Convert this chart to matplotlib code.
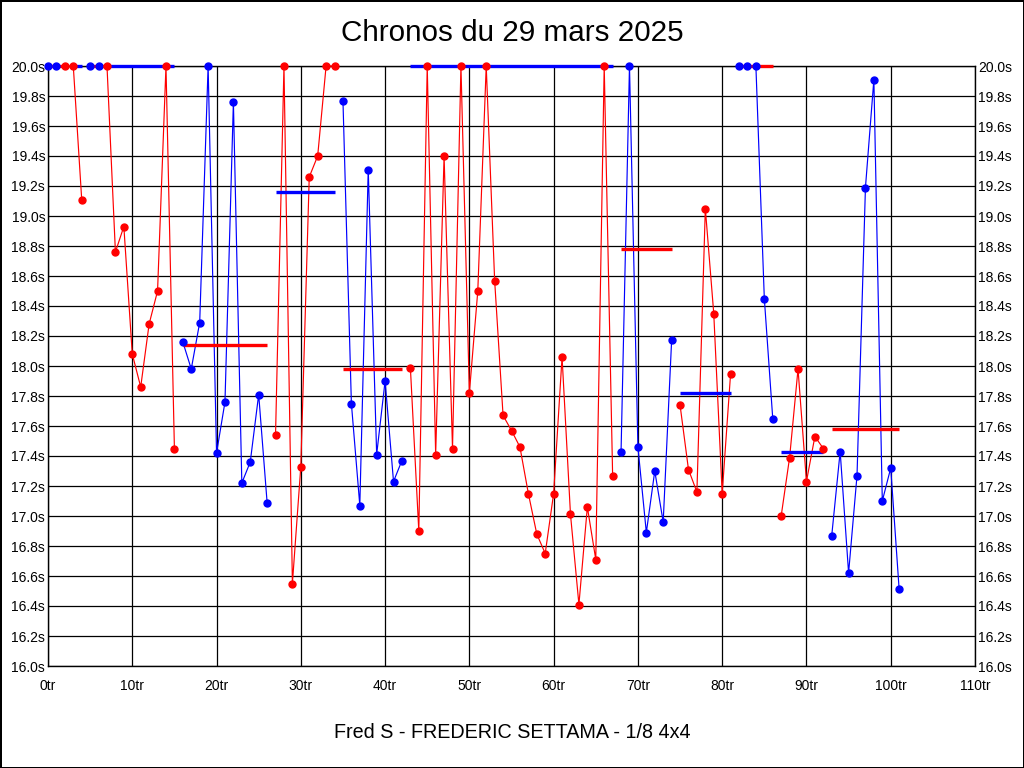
import matplotlib
matplotlib.use("Agg")
import matplotlib.pyplot as plt
from matplotlib.ticker import FuncFormatter, MultipleLocator

# ---- data ----
lap_times = [
    20.0, 20.0, 20.0, 20.0, 19.11, 20.0, 20.0, 20.0, 18.76, 18.93,
    18.08, 17.86, 18.28, 18.50, 20.0, 17.45, 18.16, 17.98, 18.29, 20.0,
    17.42, 17.76, 19.76, 17.22, 17.36, 17.81, 17.09, 17.54, 20.0, 16.55,
    17.33, 19.26, 19.40, 20.0, 20.0, 19.77, 17.75, 17.07, 19.31, 17.41,
    17.90, 17.23, 17.37, 17.99, 16.90, 20.0, 17.41, 19.40, 17.45, 20.0,
    17.82, 18.50, 20.0, 18.57, 17.67, 17.57, 17.46, 17.15, 16.88, 16.75,
    17.15, 18.06, 17.01, 16.41, 17.06, 16.71, 20.0, 17.27, 17.43, 20.0,
    17.46, 16.89, 17.30, 16.96, 18.17, 17.74, 17.31, 17.16, 19.05, 18.35,
    17.15, 17.95, 20.0, 20.0, 20.0, 18.45, 17.65, 17.00, 17.39, 17.98,
    17.23, 17.53, 17.45, 16.87, 17.43, 16.62, 17.27, 19.19, 19.91, 17.10,
    17.32, 16.51,
]
# segments (first lap, last lap)
seg_start = [0, 2, 5, 7, 16, 27, 35, 43, 68, 75, 82, 87, 93]
seg_end   = [1, 4, 6, 15, 26, 34, 42, 67, 74, 81, 86, 92, 101]
seg_color = ["#0000ff", "#ff0000"] * 7
avg_color = ["#ff0000", "#0000ff"] * 7
avg_value = [20.0, 20.0, 20.0, 20.0, 18.14, 19.16, 17.98, 20.0, 18.78, 17.82, 20.0, 17.43, 17.58]
avg_from  = [0, 3, 5, 7, 16, 27, 35, 43, 68, 75, 82, 87, 93]
avg_to    = [2, 4, 7, 15, 26, 34, 42, 67, 74, 81, 86, 92, 101]

title = "Chronos du 29 mars 2025"
footer = "Fred S - FREDERIC SETTAMA - 1/8 4x4"

plt.rcParams['font.family'] = ['Liberation Sans', 'DejaVu Sans']

fig = plt.figure(figsize=(10.24, 7.68), dpi=100, linewidth=1.0, edgecolor='black')
ax = fig.add_axes([48/1024, 1 - 666/768, 927/1024, 600/768])

laps = list(range(len(lap_times)))
for i, (s, e) in enumerate(zip(seg_start, seg_end)):
    xs = laps[s:e + 1]
    ys = lap_times[s:e + 1]
    ax.plot(xs, ys, color=seg_color[i], lw=0.85, zorder=3, clip_on=False)
    ax.plot(xs, ys, linestyle='none', marker='o', markersize=5,
            color=seg_color[i], zorder=5, clip_on=False)
    ax.hlines(avg_value[i], avg_from[i], avg_to[i], color=avg_color[i],
              lw=2.4, zorder=4, clip_on=False)

ax.set_xlim(0, 110)
ax.set_ylim(16.0, 20.0)
ax.xaxis.set_major_locator(MultipleLocator(10))
ax.yaxis.set_major_locator(MultipleLocator(0.2))
ax.xaxis.set_major_formatter(FuncFormatter(lambda v, p: f"{int(round(v))}tr"))
ax.yaxis.set_major_formatter(FuncFormatter(lambda v, p: f"{v:.1f}s"))
ax.grid(True, color='black', lw=0.9, zorder=1)
ax.set_axisbelow(True)
ax.tick_params(axis='x', length=0, pad=9, labelsize=10)
ax.tick_params(axis='y', length=0, pad=2, labelsize=10,
               left=True, right=True, labelleft=True, labelright=True)
for sp in ax.spines.values():
    sp.set_color('black')
    sp.set_linewidth(1)

fig.text(0.5, 1 - 33/768, title, ha='center', va='center', fontsize=21.3)
fig.text(0.5, 1 - 733/768, footer, ha='center', va='center', fontsize=14.2)

fig.savefig("out.png", dpi=100, edgecolor=fig.get_edgecolor())
